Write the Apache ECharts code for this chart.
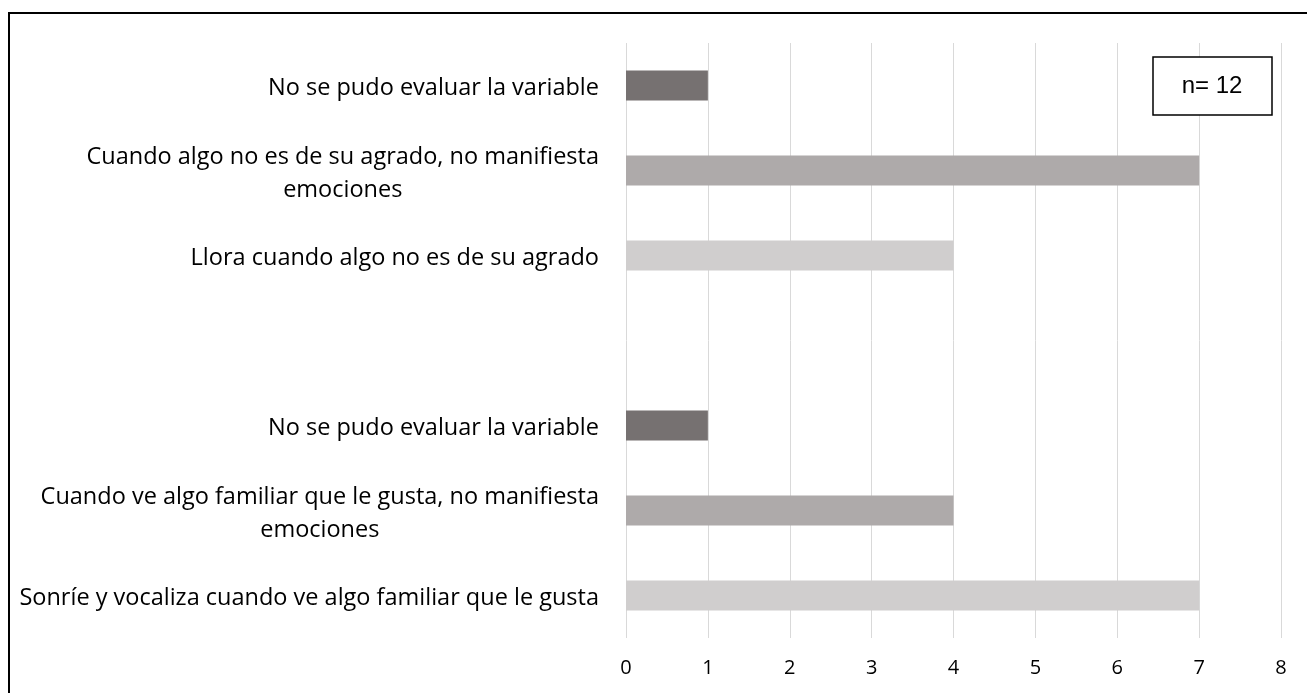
<!DOCTYPE html>
<html>
<head>
<meta charset="utf-8">
<script src="https://cdn.jsdelivr.net/npm/echarts@6/dist/echarts.min.js"></script>
<style>
  html, body { margin: 0; padding: 0; background: #fff; }
  #chart { width: 1307px; height: 693px; }
</style>
</head>
<body>
<div id="chart"></div>
<script>
// categories top to bottom, '' is the empty gap row
const categories = [
  'No se pudo evaluar la variable',
  'Cuando algo no es de su agrado, no manifiesta\nemociones',
  'Llora cuando algo no es de su agrado',
  '',
  'No se pudo evaluar la variable',
  'Cuando ve algo familiar que le gusta, no manifiesta\nemociones',
  'Sonríe y vocaliza cuando ve algo familiar que le gusta'
];
const values = [1, 7, 4, null, 1, 4, 7];
const barColors = ['#767171', '#AEAAAA', '#D0CECE', '#D0CECE', '#767171', '#AEAAAA', '#D0CECE'];
const xTicks = [0, 1, 2, 3, 4, 5, 6, 7, 8];
const noteText = 'n= 12';

const chart = echarts.init(document.getElementById('chart'));

const option = {
  animation: false,
  grid: { left: 626, right: 26, top: 43, bottom: 55 },
  xAxis: {
    type: 'value',
    min: xTicks[0],
    max: xTicks[xTicks.length - 1],
    interval: 1,
    axisLine: { show: false },
    axisTick: { show: false },
    splitLine: { lineStyle: { color: '#d9d9d9', width: 1 } },
    axisLabel: { color: '#000', fontFamily: 'Open Sans', fontSize: 20, margin: 20 }
  },
  yAxis: {
    type: 'category',
    inverse: true,
    data: categories,
    axisLine: { show: false },
    axisTick: { show: false },
    axisLabel: {
      margin: 27,
      padding: [6, 0, 0, 0],
      formatter: function (v) {
        return v.split('\n').map(function (l) { return '{a|' + l + '}'; }).join('\n');
      },
      rich: {
        a: { color: '#000', fontFamily: 'Open Sans', fontSize: 23.5, lineHeight: 33, align: 'center' }
      }
    }
  },
  series: [{
    type: 'bar',
    barWidth: 30,
    data: values.map(function (v, i) {
      return { value: v, itemStyle: { color: barColors[i] } };
    })
  }],
  graphic: [
    {
      type: 'rect',
      shape: { x: 9, y: 13, width: 1400, height: 800 },
      style: { fill: 'none', stroke: '#000', lineWidth: 2 },
      silent: true
    },
    {
      type: 'rect',
      shape: { x: 1153, y: 57, width: 119, height: 58 },
      style: { fill: '#fff', stroke: '#000', lineWidth: 1.5 },
      z: 10
    },
    {
      type: 'text',
      x: 1212, y: 86,
      style: {
        text: noteText, fill: '#000', fontFamily: 'Liberation Sans', fontSize: 24,
        align: 'center', verticalAlign: 'middle'
      },
      z: 11
    }
  ]
};

chart.setOption(option);
</script>
</body>
</html>
